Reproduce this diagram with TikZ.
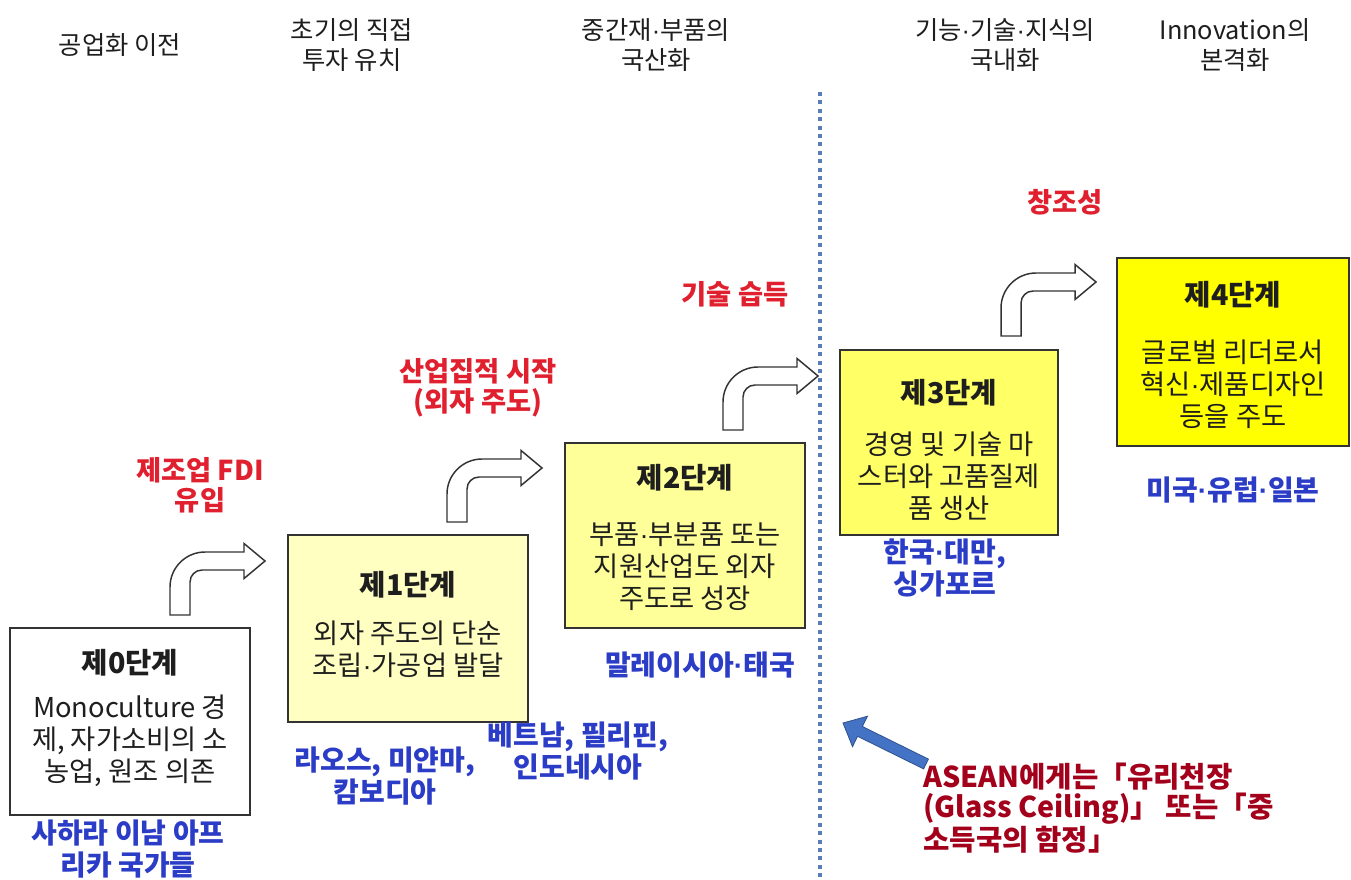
\documentclass[tikz,border=0pt]{standalone}
\usepackage{fontspec}
\setmainfont{Noto Sans CJK KR}
\newfontfamily\dotfont{Liberation Sans}
\newcommand{\md}{{\dotfont ·}}
\definecolor{boxline}{HTML}{333333}
\definecolor{txt}{HTML}{1E1E1E}
\definecolor{lab}{HTML}{2B3CC6}
\definecolor{redlab}{HTML}{E0202E}
\definecolor{darkred}{HTML}{A3001C}
\definecolor{dotblue}{HTML}{5B7DB5}
\definecolor{fillA}{HTML}{FFFFC2}
\definecolor{fillB}{HTML}{FFFF99}
\definecolor{fillC}{HTML}{FFFF66}
\definecolor{fillD}{HTML}{FFFF00}
\definecolor{bluearrow}{HTML}{4472C4}
\definecolor{bluearrowline}{HTML}{2F528F}
\tikzset{
  stagebox/.style={draw=boxline, line width=1.3pt, minimum height=#1, inner sep=0pt},
  title/.style={font=\fontsize{21.5}{24}\selectfont\bfseries, text=txt, inner sep=0pt},
  body/.style={font=\fontsize{20.5}{24}\selectfont, text=txt, align=center, inner sep=0pt},
  header/.style={font=\fontsize{19}{22.5}\selectfont, text=txt, align=center, inner sep=0pt},
  bluelab/.style={font=\fontsize{21}{24}\selectfont\bfseries, text=lab, align=center, inner sep=0pt},
  redlab/.style={font=\fontsize{20.5}{22.5}\selectfont\bfseries, text=redlab, align=center, inner sep=0pt},
  pics/bentarrow/.style={code={
    \draw[draw=boxline, fill=white, line width=1.1pt, line join=miter]
      (0,0) -- (20,0) -- (20,-33) .. controls (20,-39.6) and (25.4,-45) .. (32,-45)
      -- (74,-45) -- (74,-36.5) -- (95,-54) -- (74,-71.5) -- (74,-63) -- (35,-63)
      .. controls (15.7,-63) and (0,-47.3) .. (0,-28) -- cycle;
  }}
}
\begin{document}
\begin{tikzpicture}[x=0.75pt, y=-0.75pt]
\useasboundingbox[fill=white] (0,0) rectangle (1351,880);

% headers
\node[header] (h0) at (120,45) {공업화 이전};
\node[header] (h1) at (352,45) {초기의 직접\\투자 유치};
\node[header] (h2) at (656,45) {중간재\md 부품의\\국산화};
\node[header] (h3) at (1005,45) {기능\md 기술\md 지식의\\국내화};
\node[header] (h4) at (1235,45) {Innovation의\\본격화};

% dotted divider
\coordinate (dtop) at (820,92);
\coordinate (dbot) at (820,878);
\draw[dotblue, line width=3pt, dash pattern=on 3pt off 3.3pt] (dtop) -- (dbot);

% boxes
\node[stagebox=140.25pt, minimum width=180pt, fill=white] (b0) at (130,721.5) {};
\node[stagebox=140.25pt, minimum width=180pt, fill=fillA] (b1) at (408,628.5) {};
\node[stagebox=138.75pt, minimum width=180pt, fill=fillB] (b2) at (685,535.5) {};
\node[stagebox=138.75pt, minimum width=163.5pt, fill=fillC] (b3) at (949,442.5) {};
\node[stagebox=141pt, minimum width=174pt, fill=fillD] (b4) at (1233,352) {};

% titles
\node[title] (t0) at (130,663) {제0단계};
\node[title] (t1) at (408,585) {제1단계};
\node[title] (t2) at (685,478) {제2단계};
\node[title] (t3) at (949,393) {제3단계};
\node[title] (t4) at (1233,295) {제4단계};

% bodies
\node[body] (d0) at (130,741) {Monoculture 경\\제, 자가소비의 소\\농업, 원조 의존};
\node[body] (d1) at (408,649) {외자 주도의 단순\\조립\md 가공업 발달};
\node[body] (d2) at (685,567) {부품\md 부분품 또는\\지원산업도 외자\\주도로 성장};
\node[body] (d3) at (949,476) {경영 및 기술 마\\스터와 고품질제\\품 생산};
\node[body] (d4) at (1233,384) {글로벌 리더로서\\혁신\md 제품디자인\\등을 주도};

% country labels
\node[bluelab] (c0) at (128,849) {사하라 이남 아프\\리카 국가들};
\node[bluelab] (c1) at (385,776) {라오스, 미얀마,\\캄보디아};
\node[bluelab] (c1b) at (578,751) {베트남, 필리핀,\\인도네시아};
\node[bluelab] (c2) at (700,665) {말레이시아\md 태국};
\node[bluelab] (c3) at (945,568) {한국\md 대만,\\싱가포르};
\node[bluelab] (c4) at (1233,490) {미국\md 유럽\md 일본};

% red labels
\node[redlab] (r1) at (200,485) {제조업 FDI\\유입};
\node[redlab] (r2) at (478,388) {산업집적 시작\\(외자 주도)};
\node[redlab] (r3) at (735,294) {기술 습득};
\node[redlab] (r4) at (1065,202) {창조성};

% bent arrows
\pic at (170,615) {bentarrow};
\pic at (447,522) {bentarrow};
\pic at (723,430) {bentarrow};
\pic at (1001,336) {bentarrow};

% glass ceiling note
\node[font=\fontsize{21.5}{22.5}\selectfont\bfseries, text=darkred, align=left, anchor=west, inner sep=0pt] (g) at (923,808)
  {ASEAN에게는「유리천장\\(Glass Ceiling)」 또는「중\\소득국의 함정」};
\draw[fill=bluearrow, draw=bluearrowline, line width=0.6pt, line join=miter]
  (843,723) -- (867.5,716.2) -- (862.4,726.5) -- (928.4,759.1) -- (923.6,768.9)
  -- (857.6,736.3) -- (852.5,746.6) -- cycle;
\end{tikzpicture}
\end{document}
